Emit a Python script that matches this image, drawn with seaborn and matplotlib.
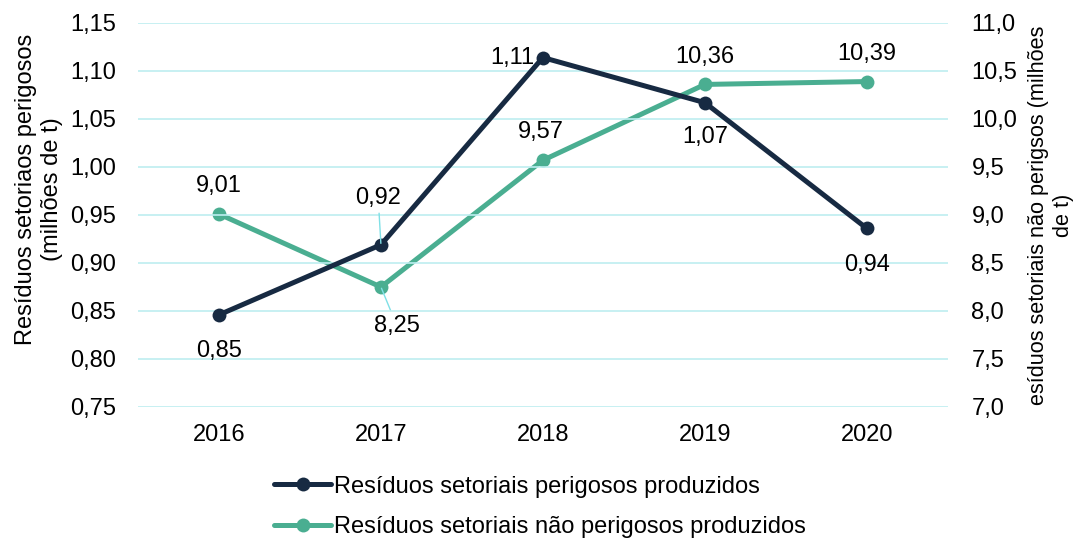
import matplotlib
matplotlib.use("Agg")
import matplotlib.pyplot as plt
import seaborn as sns
import pandas as pd

years = ["2016", "2017", "2018", "2019", "2020"]
perigosos = [0.846, 0.919, 1.114, 1.067, 0.936]
nao_perigosos = [9.01, 8.25, 9.57, 10.36, 10.39]
perigosos_labels = ["0,85", "0,92", "1,11", "1,07", "0,94"]
nao_perigosos_labels = ["9,01", "8,25", "9,57", "10,36", "10,39"]
left_ticks = [0.75, 0.80, 0.85, 0.90, 0.95, 1.00, 1.05, 1.10, 1.15]
right_ticks = [7.0, 7.5, 8.0, 8.5, 9.0, 9.5, 10.0, 10.5, 11.0]
name_p = "Resíduos setoriais perigosos produzidos"
name_np = "Resíduos setoriais não perigosos produzidos"

sns.set_theme(style="white")
plt.rcParams['font.family'] = ['Liberation Sans', 'DejaVu Sans']
plt.rcParams['text.color'] = 'black'
plt.rcParams['xtick.color'] = 'black'
plt.rcParams['ytick.color'] = 'black'
plt.rcParams['axes.labelcolor'] = 'black'
FS = 17
navy = "#172a42"
teal = "#4aae91"
grid_c = "#bdeef0"
leader_c = "#7fe0e6"

df = pd.DataFrame({"ano": years, "p": perigosos, "np": nao_perigosos})
df["x"] = range(len(years))

fig = plt.figure(figsize=(10.74, 5.41), dpi=100)
ax = fig.add_axes([0.1285, 0.2477, 0.754, 0.7098])
ax2 = ax.twinx()

ax.set_zorder(ax2.get_zorder() + 1)
ax.patch.set_visible(False)

sns.lineplot(data=df, x="x", y="np", ax=ax2, color=teal, lw=3.6, marker="o",
             markersize=10, markeredgewidth=0, label=name_np, legend=False)
sns.lineplot(data=df, x="x", y="p", ax=ax, color=navy, lw=3.6, marker="o",
             markersize=10, markeredgewidth=0, label=name_p, legend=False)

ax.set_xlim(-0.5, 4.5)
ax.set_ylim(0.75, 1.15)
ax2.set_ylim(7.0, 11.0)
ax.set_yticks(left_ticks)
ax.set_yticklabels([f"{v:.2f}".replace(".", ",") for v in left_ticks], fontsize=FS)
ax2.set_yticks(right_ticks)
ax2.set_yticklabels([f"{v:.1f}".replace(".", ",") for v in right_ticks], fontsize=FS)
ax.set_xticks(df["x"])
ax.set_xticklabels(years, fontsize=FS)
ax.tick_params(axis="x", length=0, pad=12)
ax.tick_params(axis="y", length=0, pad=16)
ax2.tick_params(axis="y", length=0, pad=17)
ax.set_xlabel("")
ax.set_ylabel("Resíduos setoriaos perigosos\n(milhões de t)", fontsize=FS, labelpad=5,
              linespacing=1.2, y=0.568)
ax2.set_ylabel("esíduos setoriais não perigsos (milhões\nde t)", fontsize=15.6, labelpad=8,
               linespacing=1.2)

for a in (ax, ax2):
    for s in a.spines.values():
        s.set_visible(False)
for v in left_ticks:
    ax.axhline(v, color=grid_c, lw=1.2, zorder=0)

# data labels (offsets in points)
p_off = [(0, -26), (-2, 34), (-22, 0), (0, -25), (0, -26)]
np_off = [(0, 20), (11.5, -28), (-1.5, 20), (0, 19.5), (0, 19.5)]
for i, (x, y) in enumerate(zip(df["x"], perigosos)):
    ax.annotate(perigosos_labels[i], (x, y), xytext=p_off[i], textcoords="offset points",
                ha="center", va="center", fontsize=FS, color="black", zorder=10,
                arrowprops=dict(arrowstyle="-", color=leader_c, lw=1, shrinkA=1, shrinkB=1) if i == 1 else None)
for i, (x, y) in enumerate(zip(df["x"], nao_perigosos)):
    ax2.annotate(nao_perigosos_labels[i], (x, y), xytext=np_off[i], textcoords="offset points",
                 ha="center", va="center", fontsize=FS, color="black", zorder=10,
                 arrowprops=dict(arrowstyle="-", color=leader_c, lw=1, shrinkA=1, shrinkB=1) if i == 1 else None)

h1, l1 = ax.get_legend_handles_labels()
h2, l2 = ax2.get_legend_handles_labels()
fig.legend(h1 + h2, l1 + l2, loc="center", bbox_to_anchor=(0.503, 0.063), frameon=False,
           fontsize=FS, handlelength=2.4, handletextpad=0.15, labelspacing=0.78, borderaxespad=0)

fig.savefig("out.png", dpi=100)
